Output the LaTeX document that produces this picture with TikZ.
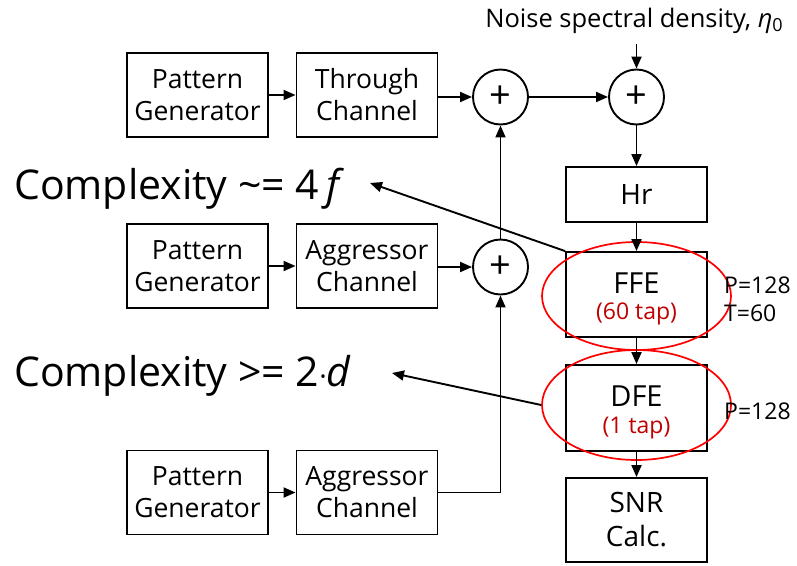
\documentclass[tikz,border=0pt]{standalone}
\usepackage{fontspec}
\setmainfont{Open Sans}
\usetikzlibrary{arrows.meta,shapes.geometric}
\definecolor{tapred}{HTML}{C00000}
\begin{document}
\begin{tikzpicture}[x=1pt,y=-1pt,
  blk/.style={draw,line width=1.9pt,rectangle,minimum width=141pt,minimum height=84pt,align=center,font=\fontsize{26.5}{32}\selectfont,inner sep=0pt},
  sumc/.style={draw,circle,line width=1.9pt,minimum size=55pt,inner sep=0pt,font=\fontsize{38}{40}\selectfont},
  arr/.style={line width=1.9pt,-{Triangle[length=12pt,width=10pt]}},
  ln/.style={line width=1.9pt},
  ell/.style={draw=red,line width=1.7pt,ellipse,inner sep=0pt},
  lbl/.style={font=\fontsize{23}{28}\selectfont,inner sep=0pt,anchor=west,align=left},
  big/.style={font=\fontsize{41}{50}\selectfont,inner sep=0pt,anchor=base west}]
\useasboundingbox (0,0) rectangle (797,565);

% top row
\node[blk] (pg1) at (197.5,95) {Pattern\\Generator};
\node[blk] (tc1) at (367,95) {Through\\Channel};
\node[sumc] (s1) at (500.5,97) {+};
\node[sumc] (s2) at (636.5,97) {+};
\node[font=\fontsize{25.5}{30}\selectfont,inner sep=0pt] (noise) at (634,21) {Noise spectral density, {\itshape η}\raisebox{-4pt}{\fontsize{18}{20}\selectfont 0}};

% middle row
\node[blk] (pg2) at (197.5,266) {Pattern\\Generator};
\node[blk] (ac2) at (367,266) {Aggressor\\Channel};
\node[sumc] (s3) at (500.5,267) {+};

% bottom row
\node[blk] (pg3) at (197.5,492.5) {Pattern\\Generator};
\node[blk] (ac3) at (367,492.5) {Aggressor\\Channel};
\coordinate (corner) at (500.5,492.5);

% right column
\node[blk,minimum height=55pt,font=\fontsize{28}{32}\selectfont] (hr) at (636.5,194.5) {Hr};
\node[blk,minimum height=85pt] (ffe) at (636.5,294.5) {};
\node[font=\fontsize{29}{32}\selectfont,inner sep=0pt] (ffet) at (636.5,283) {FFE};
\node[font=\fontsize{23}{26}\selectfont,text=tapred,inner sep=0pt] (ffeta) at (636.5,314) {(60 tap)};
\node[blk,minimum height=86pt] (dfe) at (636.5,408) {};
\node[font=\fontsize{29}{32}\selectfont,inner sep=0pt] (dfet) at (636.5,396) {DFE};
\node[font=\fontsize{23}{26}\selectfont,text=tapred,inner sep=0pt] (dfeta) at (636.5,428) {(1 tap)};
\node[blk,font=\fontsize{28}{34}\selectfont] (snr) at (636.5,520) {SNR\\Calc.};

% ellipses
\node[ell,minimum width=189pt,minimum height=108pt] (e1) at (636.5,296) {};
\node[ell,minimum width=189pt,minimum height=110pt] (e2) at (636.5,405) {};

% side labels
\node[lbl] (p1) at (724,285) {P=128};
\node[lbl] (t1) at (724,313) {T=60};
\node[lbl] (p2) at (724,411) {P=128};

% complexity
\node[big] (cx1) at (14,199) {Complexity \textasciitilde= 4\,\textit{f}};
\node[big] (cx2) at (14,386) {Complexity >= 2{\fontsize{28}{30}\selectfont·}\textit{d}};
\coordinate (cx1e) at (370,183);
\coordinate (cx2e) at (392,373);

% connectors
\draw[arr] (pg1) -- (tc1);
\draw[arr] (tc1.east |- s1) -- (s1);
\draw[arr] (s1) -- (s2);
\draw[arr] (noise.south -| s2) ++(0,10) -- (s2.north);
\draw[arr] (s2) -- (hr);
\draw[arr] (hr) -- (ffe);
\draw[arr] (ffe) -- (dfe);
\draw[arr] (dfe) -- (snr);

\draw[arr] (pg2) -- (ac2);
\draw[arr] (ac2.east |- s3) -- (s3);
\draw[arr] (s3) -- (s1);

\draw[arr] (pg3) -- (ac3);
\draw[ln] (ac3.east) -- (corner);
\draw[arr] (corner) -- (s3.south);

\draw[arr] (ffe.north west) -- (cx1e);
\draw[arr] (e2.west) -- (cx2e);
\end{tikzpicture}
\end{document}
